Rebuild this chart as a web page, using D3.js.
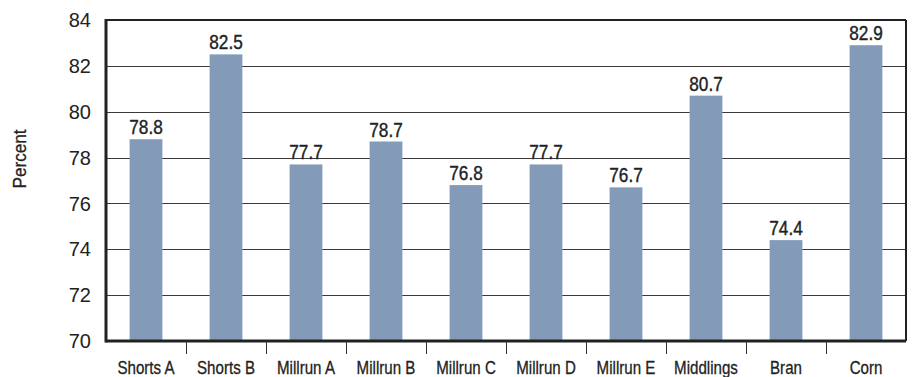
<!DOCTYPE html>
<html>
<head>
<meta charset="utf-8">
<script src="https://cdn.jsdelivr.net/npm/d3@7"></script>
<style>
  body { margin: 0; background: #fff; }
</style>
</head>
<body>
<script>
const categories = ["Shorts A", "Shorts B", "Millrun A", "Millrun B", "Millrun C",
  "Millrun D", "Millrun E", "Middlings", "Bran", "Corn"];
const values = [78.8, 82.5, 77.7, 78.7, 76.8, 77.7, 76.7, 80.7, 74.4, 82.9];
const yTicks = [70, 72, 74, 76, 78, 80, 82, 84];

const margin = { top: 20, right: 10, bottom: 36, left: 106 };
const width = 916 - margin.left - margin.right;
const height = 377 - margin.top - margin.bottom;
const narrow = "'Liberation Sans', Arial, sans-serif";

const x = d3.scaleBand()
  .domain(categories)
  .range([0, width])
  .paddingInner(0.59)
  .paddingOuter(0.295);

const xTick = d3.scaleBand().domain(categories).range([0, width]);

const y = d3.scaleLinear()
  .domain([70, 84])
  .range([height, 0]);

const svg = d3.select("body").append("svg")
  .attr("width", 916)
  .attr("height", 377)
  .append("g")
  .attr("transform", "translate(" + margin.left + "," + margin.top + ")");

// gridlines
svg.append("g")
  .selectAll("line")
  .data(yTicks.slice(1, -1))
  .enter().append("line")
  .attr("x1", 0)
  .attr("x2", width)
  .attr("y1", d => Math.round(y(d)) + 0.5)
  .attr("y2", d => Math.round(y(d)) + 0.5)
  .attr("stroke", "#3a3a3a")
  .attr("stroke-width", 1);

// bars
svg.selectAll(".bar")
  .data(values)
  .enter().append("rect")
  .attr("class", "bar")
  .attr("x", (d, i) => x(categories[i]))
  .attr("width", x.bandwidth())
  .attr("y", d => y(d))
  .attr("height", d => height - y(d))
  .attr("fill", "#839ab9");

// value labels (condensed look via horizontal scale)
svg.selectAll(".label")
  .data(values)
  .enter().append("text")
  .attr("class", "label")
  .attr("transform", (d, i) => "translate(" + (x(categories[i]) + x.bandwidth() / 2) + "," + (y(d) - 5) + ") scale(0.86,1)")
  .attr("text-anchor", "middle")
  .style("font-family", narrow)
  .style("font-size", "20px")
  .attr("fill", "#222")
  .attr("stroke", "#222")
  .attr("stroke-width", 0.4)
  .text(d => d.toFixed(1));

// frame
svg.append("line")
  .attr("x1", 0).attr("x2", width)
  .attr("y1", 0).attr("y2", 0)
  .attr("stroke", "#222").attr("stroke-width", 2);
svg.append("line")
  .attr("x1", width).attr("x2", width)
  .attr("y1", 0).attr("y2", height)
  .attr("stroke", "#222").attr("stroke-width", 2);
svg.append("line")
  .attr("x1", 0).attr("x2", 0)
  .attr("y1", -1).attr("y2", height + 1.5)
  .attr("stroke", "#222").attr("stroke-width", 3);
svg.append("line")
  .attr("x1", 0).attr("x2", width)
  .attr("y1", height).attr("y2", height)
  .attr("stroke", "#222").attr("stroke-width", 3);

// category separator ticks
svg.append("g")
  .selectAll("line")
  .data(categories.slice(1))
  .enter().append("line")
  .attr("x1", d => Math.round(xTick(d)) + 0.5)
  .attr("x2", d => Math.round(xTick(d)) + 0.5)
  .attr("y1", height)
  .attr("y2", height + 13)
  .attr("stroke", "#333")
  .attr("stroke-width", 1);

// category labels
svg.append("g")
  .selectAll("text")
  .data(categories)
  .enter().append("text")
  .attr("transform", d => "translate(" + (xTick(d) + xTick.bandwidth() / 2) + "," + (height + 33) + ") scale(0.84,1)")
  .attr("text-anchor", "middle")
  .style("font-family", narrow)
  .style("font-size", "18px")
  .attr("fill", "#222")
  .attr("stroke", "#222")
  .attr("stroke-width", 0.3)
  .text(d => d);

// y tick labels
svg.append("g")
  .selectAll("text")
  .data(yTicks)
  .enter().append("text")
  .attr("x", -15)
  .attr("y", d => y(d))
  .attr("dy", "0.36em")
  .attr("text-anchor", "end")
  .style("font-family", "'Liberation Sans', Arial, sans-serif")
  .style("font-size", "20px")
  .attr("fill", "#222")
  .text(d => d);

// y axis title
svg.append("text")
  .attr("transform", "translate(" + (-80) + "," + 139 + ") rotate(-90) scale(0.9,1)")
  .attr("text-anchor", "middle")
  .style("font-family", narrow)
  .style("font-size", "19px")
  .attr("fill", "#222")
  .attr("stroke", "#222")
  .attr("stroke-width", 0.3)
  .text("Percent");
</script>
</body>
</html>
